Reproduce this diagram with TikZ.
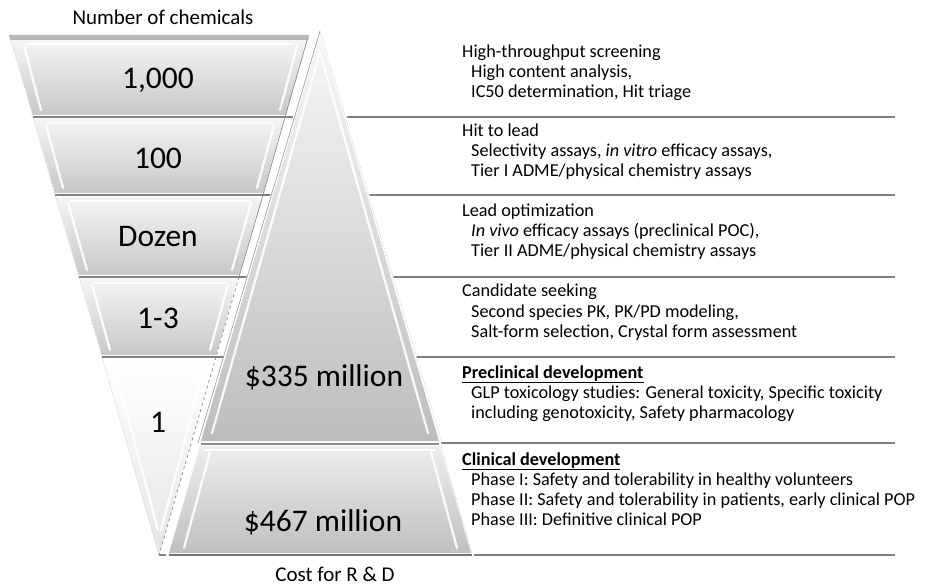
\documentclass[tikz,border=0pt]{standalone}
\usepackage{fontspec}
\setmainfont{Carlito}
\begin{document}
\begin{tikzpicture}[x=1pt,y=-1pt,
  sepline/.style={draw=black!50, line width=2pt},
  bandfill/.style={top color=black!4, bottom color=black!22},
  lastband/.style={top color=white, bottom color=black!10},
  pyrtop/.style={top color=black!3, bottom color=black!26},
  pyrlow/.style={top color=black!7, bottom color=black!25},
  hilite/.style={draw=white, line width=2.2pt, opacity=0.9, line cap=round},
  rim/.style={draw=black!30, line width=0.5pt, densely dotted},
  big/.style={font=\fontsize{31.5}{34}\selectfont, inner sep=0pt},
  titletext/.style={font=\fontsize{21}{24}\selectfont, inner sep=0pt},
  desc/.style={font=\fontsize{18.2}{20}\selectfont, align=left, anchor=base west, inner sep=0pt}]
\useasboundingbox (0,0) rectangle (942,585);
\fill[white] (0,0) rectangle (942,585);

% ---------- separator lines (behind everything) ----------
\draw[sepline] (33,117) -- (895,117);
\draw[sepline] (55,195) -- (895,195);
\draw[sepline] (79,277) -- (895,277);
\draw[sepline] (102,357) -- (895,357);
\draw[sepline] (201,443) -- (895,443);
\draw[sepline] (159,555) -- (895,555);

% ---------- funnel (number of chemicals) ----------
% band 1
\path[bandfill] (11,40) -- (307,40) -- (286,115) -- (33,115) -- cycle;
\fill[black!28] (9,35) -- (309,35) -- (308,40) -- (10,40) -- cycle;
\draw[hilite] (24,46) -- (41,110);
\draw[hilite] (297,46) -- (280,110);
\draw[hilite] (26,44) -- (294,44);
\draw[rim] (10,37) -- (33,117);
\draw[black!45, line width=0.7pt] (308,37) -- (285,117);
% band 2
\path[bandfill] (34,119) -- (284,119) -- (263,193) -- (55,193) -- cycle;
\draw[hilite] (46,125) -- (63,188);
\draw[hilite] (274,125) -- (257,188);
\draw[hilite] (48,123) -- (272,123);
\draw[rim] (33,117) -- (55,195);
\draw[black!45, line width=0.7pt] (285,117) -- (263,195);
% band 3
\path[bandfill] (56,197) -- (262,197) -- (239,275) -- (79,275) -- cycle;
\draw[hilite] (68,203) -- (87,270);
\draw[hilite] (251,203) -- (232,270);
\draw[hilite] (70,201) -- (249,201);
\draw[rim] (55,195) -- (79,277);
\draw[black!45, line width=0.7pt] (263,195) -- (239,277);
% band 4
\path[bandfill] (80,279) -- (238,279) -- (216,355) -- (102,355) -- cycle;
\draw[hilite] (92,285) -- (110,350);
\draw[hilite] (228,285) -- (210,350);
\draw[hilite] (94,283) -- (226,283);
\draw[rim] (79,277) -- (102,357);
\draw[black!45, line width=0.7pt, dashed] (239,277) -- (216,357);
% band 5 (triangle)
\path[lastband] (103,359) -- (215,359) -- (159,555) -- cycle;
\draw[hilite] (114,365) -- (158,530);
\draw[hilite] (205,365) -- (161,530);
\draw[rim] (102,357) -- (159,555);
\draw[black!45, line width=0.7pt, dashed] (216,357) -- (159,555);

% ---------- pyramid (cost) ----------
\draw[white, line width=5pt, line join=round] (320,33) -- (201,443) -- (439,443) -- cycle;
\path[pyrtop] (320,35) -- (439,441) -- (201,441) -- cycle;
\draw[hilite] (320,52) -- (212,433);
\draw[hilite] (320,52) -- (428,433);
\draw[rim] (320,31) -- (442,443);
\draw[black!40, line width=0.6pt] (320,31) -- (198,443);
\draw[white, line width=4pt] (200,447) -- (440,447) -- (472,555) -- (168,555) -- cycle;
\path[pyrlow] (200,446) -- (440,446) -- (471,553) -- (169,553) -- cycle;
\draw[hilite] (210,452) -- (184,548);
\draw[hilite] (431,452) -- (457,548);
\draw[hilite] (205,450) -- (435,450);
\draw[rim] (441,446) -- (472,553);
\draw[black!55, line width=1.2pt] (169,555) -- (472,555);
\draw[black!45, line width=1.2pt] (201,444) -- (439,444);

% ---------- labels ----------
\node[titletext] (ncTitle) at (163,17) {Number of chemicals};
\node[titletext, anchor=base] (costTitle) at (335,581) {Cost for R \& D};
\node[big] (n1000) at (158,80) {1,000};
\node[big] (n100) at (158,158) {100};
\node[big] (ndozen) at (158,237) {Dozen};
\node[big] (n13) at (158,318) {1-3};
\node[big] (n1) at (158,422) {1};
\node[big] (c335) at (324,377) {\$335 million};
\node[big] (c467) at (323,522) {\$467 million};

% ---------- stage descriptions (anchored at last baseline) ----------
\node[desc] (hts) at (462,98) {High-throughput screening\\
  \hspace*{9pt}High content analysis,\\
  \hspace*{9pt}IC50 determination, Hit triage};
\node[desc] (h2l) at (462,177) {Hit to lead\\
  \hspace*{9pt}Selectivity assays, \textit{in vitro} efficacy assays,\\
  \hspace*{9pt}Tier I ADME/physical chemistry assays};
\node[desc] (lo) at (462,257) {Lead optimization\\
  \hspace*{9pt}\textit{In vivo} efficacy assays (preclinical POC),\\
  \hspace*{9pt}Tier II ADME/physical chemistry assays};
\node[desc] (cs) at (462,337) {Candidate seeking\\
  \hspace*{9pt}Second species PK, PK/PD modeling,\\
  \hspace*{9pt}Salt-form selection, Crystal form assessment};
\node[desc] (pd) at (462,418) {\underline{\textbf{Preclinical development}}\\
  \hspace*{9pt}GLP toxicology studies: General toxicity, Specific toxicity\\
  \hspace*{9pt}including genotoxicity, Safety pharmacology};
\node[desc] (cd) at (462,525) {\underline{\textbf{Clinical development}}\\
  \hspace*{9pt}Phase I: Safety and tolerability in healthy volunteers\\
  \hspace*{9pt}Phase II: Safety and tolerability in patients, early clinical POP\\
  \hspace*{9pt}Phase III: Definitive clinical POP};
\end{tikzpicture}
\end{document}
